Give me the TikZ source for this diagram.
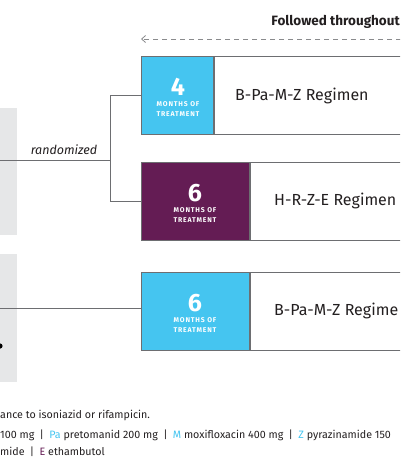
\documentclass[tikz,border=0pt]{standalone}
\usepackage{fontspec}
\setmainfont{Fira Sans}
\usetikzlibrary{arrows.meta}
\definecolor{tbblue}{HTML}{45C5F0}
\definecolor{tbpurple}{HTML}{641C54}
\definecolor{tbgray}{HTML}{E6E7E8}
\definecolor{tbline}{HTML}{6D6E71}
\definecolor{tbtext}{HTML}{231F20}
\newcommand{\tbsep}{\enspace|\enspace}
\begin{document}
\begin{tikzpicture}[x=1pt,y=-1pt,
  graybox/.style={fill=tbgray, draw=none, anchor=north west, minimum width=27pt, inner sep=0pt},
  colcell/.style={draw=tbline, line width=0.8pt, anchor=north west, minimum height=78pt, inner sep=0pt},
  whitecell/.style={draw=tbline, line width=0.8pt, fill=white, anchor=north west, minimum height=78pt, minimum width=200pt, inner sep=0pt},
  conn/.style={draw=tbline, line width=0.8pt},
  bignum/.style={text=white, font=\fontsize{25}{25}\selectfont\bfseries, inner sep=0pt},
  smallcap/.style={text=white, font=\fontsize{6.9}{7}\selectfont\bfseries\addfontfeatures{LetterSpace=12}, inner sep=0pt},
  reglabel/.style={text=tbtext, font=\fontsize{16}{17}\selectfont, anchor=west, inner sep=0pt},
  foot/.style={text=tbtext, font=\fontsize{10.7}{11}\selectfont, anchor=base west, inner sep=0pt}
]
\useasboundingbox (0,0) rectangle (400,467);
\clip (0,0) rectangle (400,467);

% left gray panels
\node[graybox, minimum height=127pt] (g1) at (-10,108) {};
\node[graybox, minimum height=128pt] (g2) at (-10,254) {};
\fill[black] (0,346) circle (2.6pt);

% header
\node[font=\fontsize{13.5}{14}\selectfont\bfseries, text=tbtext, anchor=east, inner sep=0pt] (hdr) at (400,22) {Followed throughout};
\coordinate (arrstart) at (410,39);
\coordinate (arrend) at (141,39);
\draw[draw=tbline!80, line width=0.8pt, dash pattern=on 5pt off 4pt, -{Straight Barb[length=4pt,width=7pt]}] (arrstart) -- (arrend);

% regimen rows
\node[colcell, fill=tbblue, minimum width=72pt] (c1) at (141,56) {};
\node[whitecell] (w1) at (c1.north east) {};
\node[colcell, fill=tbpurple, minimum width=108pt] (c2) at (141,162) {};
\node[whitecell] (w2) at (c2.north east) {};
\node[colcell, fill=tbblue, minimum width=108pt] (c3) at (141,272) {};
\node[whitecell] (w3) at (c3.north east) {};

% cell texts
\node[bignum] (n1) at (178,87) {4};
\node[smallcap] (m1) at (178,104) {MONTHS OF};
\node[smallcap] (t1) at (178,114) {TREATMENT};
\node[bignum] (n2) at (195,193) {6};
\node[smallcap] (m2) at (195,210) {MONTHS OF};
\node[smallcap] (t2) at (195,220) {TREATMENT};
\node[bignum] (n3) at (195,303) {6};
\node[smallcap] (m3) at (195,320) {MONTHS OF};
\node[smallcap] (t3) at (195,330) {TREATMENT};

\node[reglabel] (r1) at (235,96) {B-Pa-M-Z Regimen};
\node[reglabel] (r2) at (274,201) {H-R-Z-E Regimen};
\node[reglabel] (r3) at (274,311) {B-Pa-M-Z Regime};

% connectors
\coordinate (in1) at (0,160);
\coordinate (split) at (110,160);
\coordinate (in2) at (0,308);
\draw[conn] (in1) -- (split);
\draw[conn] (split) |- (c1.west);
\draw[conn] (split) |- (c2.west);
\draw[conn] (in2) -- (c3.west |- in2);
\node[font=\fontsize{12.5}{13}\selectfont\itshape, text=tbtext, inner sep=0pt] (rand) at (64,150) {randomized};

% footnotes
\node[foot] (f1) at (0,418) {ance to isoniazid or rifampicin.};
\node[foot] (f2) at (0,438) {100 mg\tbsep{\color{tbblue}Pa} pretomanid 200 mg\tbsep{\color{tbblue}M} moxifloxacin 400 mg\tbsep{\color{tbblue}Z} pyrazinamide 150};
\node[foot] (f3) at (0,455) {mide\tbsep{\color{tbpurple}E} ethambutol};
\end{tikzpicture}
\end{document}
